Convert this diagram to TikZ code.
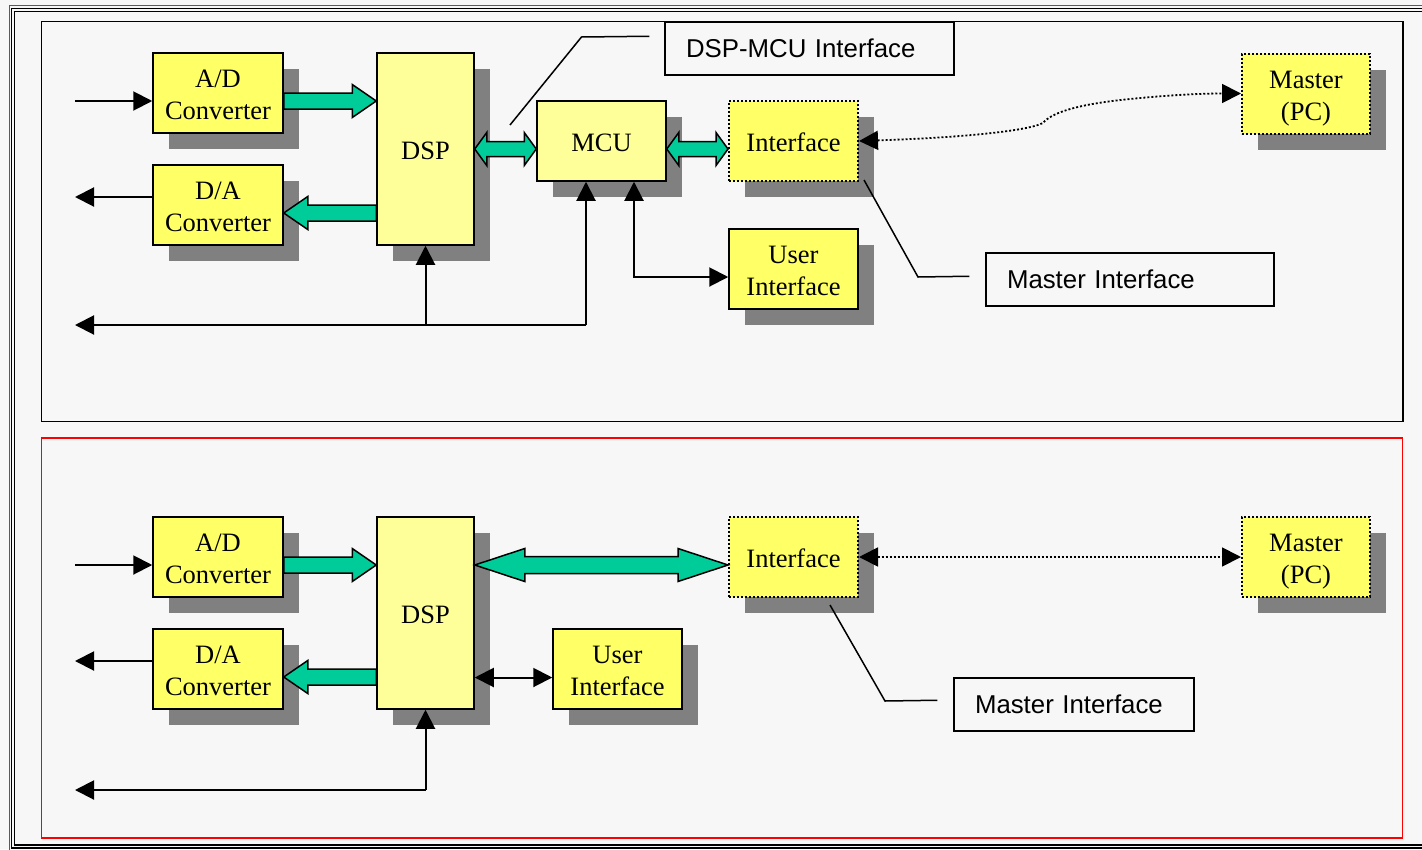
\documentclass[tikz,border=0pt]{standalone}
\usepackage{fontspec}
\setmainfont{Liberation Serif}
\newfontfamily\labelsans{Liberation Sans}
\usetikzlibrary{arrows.meta,calc,shadows}
\definecolor{pagebg}{HTML}{F7F7F7}
\definecolor{boxyellow}{HTML}{FFFF66}
\definecolor{paleyellow}{HTML}{FFFF99}
\definecolor{shadowgray}{HTML}{808080}
\definecolor{busgreen}{HTML}{00CC99}
\definecolor{framered}{HTML}{FF0000}

% wide bus arrow with one head: tail, tip, head length, shaft half height, head half height
\newcommand\fatsingle[5]{%
  \coordinate (fa-base) at ($#2!#3!#1$);
  \filldraw[fatbody] ($#1+(0,#4)$) -- ($(fa-base)+(0,#4)$) -- ($(fa-base)+(0,#5)$) -- #2
    -- ($(fa-base)+(0,-#5)$) -- ($(fa-base)+(0,-#4)$) -- ($#1+(0,-#4)$) -- cycle;}
% wide bus arrow with two heads
\newcommand\fatdouble[5]{%
  \coordinate (fa-b1) at ($#1!#3!#2$);
  \coordinate (fa-b2) at ($#2!#3!#1$);
  \filldraw[fatbody] #1 -- ($(fa-b1)+(0,#5)$) -- ($(fa-b1)+(0,#4)$) -- ($(fa-b2)+(0,#4)$)
    -- ($(fa-b2)+(0,#5)$) -- #2 -- ($(fa-b2)+(0,-#5)$) -- ($(fa-b2)+(0,-#4)$)
    -- ($(fa-b1)+(0,-#4)$) -- ($(fa-b1)+(0,-#5)$) -- cycle;}

\tikzset{
  tri/.tip={Triangle[length=19pt,width=19pt]},
  box/.style={draw=black, line width=1.5pt, fill=boxyellow,
    drop shadow={shadow xshift=16pt, shadow yshift=-16pt, fill=shadowgray, opacity=1},
    minimum width=130pt, minimum height=80pt, inner sep=0pt, align=center,
    font=\fontsize{26.5}{32}\selectfont, text height=21.5pt, text depth=0pt},
  twoline/.style={text height=53.5pt, text depth=0pt},
  dotbox/.style={dash pattern=on 2pt off 2pt, line width=2pt},
  fatbody/.style={fill=busgreen, draw=black, line width=1.5pt, line join=miter},
  wire/.style={draw=black, line width=2pt},
  dotwire/.style={draw=black, line width=1.8pt, dash pattern=on 2pt off 2pt},
  lbl/.style={draw=black, line width=1.5pt, fill=pagebg, inner xsep=21pt, inner ysep=0pt,
    minimum height=53pt, align=left, font=\labelsans\fontsize{25.8}{30}\selectfont},
  leader/.style={draw=black, line width=1.5pt},
}

\begin{document}
\begin{tikzpicture}[x=1pt,y=-1pt]
\clip (0,0) rectangle (1422,849);
\fill[pagebg] (0,0) rectangle (1422,849);

% page frame
\draw[draw=shadowgray!70!black, line width=1pt] (9.5,5.5) rectangle (1440,870);
\draw[black, line width=1.5pt] (11.5,8.5) rectangle (1430,848);
\draw[black, line width=1.5pt] (14.5,11.5) rectangle (1426,845);

% panels
\draw[black, line width=1.5pt] (41.5,21.5) rectangle (1403,421.5);
\draw[framered, line width=1.8pt] (41.5,438) rectangle (1402.5,838);

% ---------- upper panel: DSP + MCU ----------
\node[box, twoline] (ad) at (218,93) {A/D\\Converter};
\node[box, twoline] (da) at (218,205) {D/A\\Converter};
\node[box, fill=paleyellow, minimum width=97pt, minimum height=192pt] (dsp) at (425.5,149) {DSP};
\node[box, fill=paleyellow, minimum width=129pt] (mcu) at (601.5,141) {MCU};
\node[box, dotbox, minimum width=129pt] (ifa) at (793.5,141) {Interface};
\node[box, twoline, dotbox, minimum width=128pt] (pc) at (1306,93.5) {Master\\(PC)};
\node[box, twoline, minimum width=129pt] (ui) at (793.5,269) {User\\Interface};

\node[lbl, text width=247pt] (lab1) at (809.5,48.5) {DSP-MCU Interface};
\node[lbl, text width=246pt] (lab2) at (1130,279.5) {Master Interface};

\coordinate (adout) at ($(ad.east)+(0,8)$);
\coordinate (daout) at ($(da.east)+(0,8)$);
\coordinate (uiin) at ($(ui.west)+(0,8)$);
\coordinate (in1) at (75,101);
\coordinate (out1) at (75,197);
\coordinate (busL) at (75,325);
\coordinate (busR) at (586,325);

\fatsingle{(adout)}{(adout -| dsp.west)}{24pt}{8}{16.5}
\fatsingle{(daout -| dsp.west)}{(daout)}{24pt}{8}{16.5}
\fatdouble{(dsp.east)}{(dsp.east -| mcu.west)}{12pt}{7.5}{16.5}
\fatdouble{(dsp.east -| mcu.east)}{(dsp.east -| ifa.west)}{12pt}{7.5}{16.5}

\draw[wire, -tri] (in1) -- (in1 -| ad.west);
\draw[wire, -tri] (out1 -| da.west) -- (out1);
\draw[wire, -tri] (busR) -- (busL);
\draw[wire, -tri] (busR) -- (busR |- mcu.south);
\draw[wire, -tri] (dsp.south |- busL) -- (dsp.south);
\draw[wire, tri-tri] ($(mcu.south)+(32.5,0)$) |- (uiin);

\draw[dotwire, tri-tri] (ifa.east) .. controls (950,138) and (1025,132) .. (1043,123)
  .. controls (1052,112) and (1080,104) .. (1130,99)
  .. controls (1170,95) and (1200,93.5) .. (pc.west);

\coordinate (lead1) at (510,125);
\coordinate (lead2) at (864,180);
\draw[leader] ($(lab1.north west)+(-15,15)$) -- (581.5,37) -- (lead1);
\draw[leader] ($(lab2.north west)+(-16,24)$) -- (918,277) -- (lead2);

% ---------- lower panel: DSP only ----------
\node[box, twoline] (ad2) at (218,557) {A/D\\Converter};
\node[box, twoline] (da2) at (218,669) {D/A\\Converter};
\node[box, fill=paleyellow, minimum width=97pt, minimum height=192pt] (dsp2) at (425.5,613) {DSP};
\node[box, dotbox, minimum width=129pt] (ifb) at (793.5,557) {Interface};
\node[box, twoline, dotbox, minimum width=128pt] (pc2) at (1306,557) {Master\\(PC)};
\node[box, twoline, minimum width=129pt] (ui2) at (617.5,669) {User\\Interface};

\node[lbl, text width=198pt] (lab3) at (1074,704.5) {Master Interface};

\coordinate (ad2out) at ($(ad2.east)+(0,8)$);
\coordinate (da2out) at ($(da2.east)+(0,8)$);
\coordinate (ifbin) at ($(ifb.west)+(0,8)$);
\coordinate (ui2in) at ($(ui2.west)+(0,8.5)$);
\coordinate (in2) at (75,565);
\coordinate (out2) at (75,661);
\coordinate (bus2L) at (75,790);

\fatsingle{(ad2out)}{(ad2out -| dsp2.west)}{24pt}{8}{16.5}
\fatsingle{(da2out -| dsp2.west)}{(da2out)}{24pt}{8}{16.5}
\fatdouble{(ifbin -| dsp2.east)}{(ifbin)}{50pt}{8.5}{16.5}

\draw[wire, -tri] (in2) -- (in2 -| ad2.west);
\draw[wire, -tri] (out2 -| da2.west) -- (out2);
\draw[wire, -tri] (dsp2.south |- bus2L) -- (bus2L);
\draw[wire, -tri] (dsp2.south |- bus2L) -- (dsp2.south);
\draw[wire, tri-tri] (ui2in -| dsp2.east) -- (ui2in);
\draw[dotwire, tri-tri] (ifb.east) -- (pc2.west);

\coordinate (lead3) at (830,605);
\draw[leader] ($(lab3.north west)+(-16,23)$) -- (885,701) -- (lead3);
\end{tikzpicture}
\end{document}
